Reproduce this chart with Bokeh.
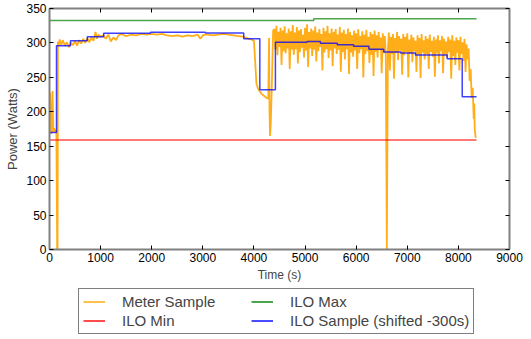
from bokeh.plotting import figure
from bokeh.layouts import column
from bokeh.models import Range1d, LinearAxis, FixedTicker, Legend, LegendItem
from bokeh.embed import file_html
from bokeh.resources import INLINE

# ---------------- data ----------------
# Meter sample (orange): early, smoother part
meter_t_early = [0, 15, 30, 45, 60, 75, 90, 105, 120, 135,
                 150, 158, 165, 180, 200, 230, 260, 300, 340, 380,
                 420, 460, 500, 540, 580, 620, 660, 700, 740, 780,
                 820, 860, 900, 930, 960, 1000, 1050, 1100, 1150, 1200,
                 1250, 1300, 1350, 1400, 1500, 1600, 1700, 1800, 1900, 2000,
                 2100, 2200, 2300, 2400, 2500, 2600, 2700, 2800, 2900, 2950,
                 3000, 3050, 3100, 3200, 3300, 3400, 3500, 3600, 3700, 3800,
                 3900, 3950, 4000, 4050, 4090, 4150, 4200, 4250, 4280, 4295,
                 4305, 4315, 4330, 4350, 4375]
meter_w_early = [175, 228, 168, 172, 230, 170, 176, 171, 174, 170,
                 0, 0, 302, 295, 305, 297, 304, 296, 301, 294,
                 300, 297, 303, 296, 304, 299, 306, 300, 307, 301,
                 308, 303, 316, 306, 312, 309, 311, 306, 312, 302,
                 308, 304, 311, 313, 310, 312, 311, 313, 312, 313,
                 312, 313, 311, 310, 311, 309, 311, 310, 312, 306,
                 311, 312, 312, 311, 312, 313, 312, 311, 310, 309,
                 306, 305, 303, 240, 232, 226, 223, 220, 219, 307,
                 200, 165, 185, 240, 318]

# Meter sample: noisy part, sampled every 20 s from 4400 s
meter_noise_start = 4400
meter_noise_step = 20
meter_w_noise = [320, 290, 325, 282, 316, 294, 322, 268, 318, 288,
                 324, 285, 314, 292, 321, 262, 317, 290, 326, 283,
                 315, 291, 323, 270, 318, 287, 320, 293, 312, 279,
                 322, 289, 327, 265, 316, 292, 321, 281, 318, 290,
                 324, 273, 315, 288, 320, 294, 313, 260, 322, 286,
                 317, 291, 325, 278, 314, 289, 321, 266, 316, 292,
                 320, 284, 312, 290, 323, 258, 315, 287, 319, 276,
                 313, 291, 321, 255, 316, 286, 311, 280, 318, 289,
                 314, 262, 320, 285, 310, 291, 317, 250, 312, 284,
                 319, 288, 309, 271, 316, 283, 313, 252, 318, 287,
                 311, 279, 316, 290, 308, 256, 314, 285, 310, 283,
                 0, 288, 315, 260, 309, 284, 313, 248, 307, 286,
                 316, 275, 310, 289, 306, 254, 313, 282, 309, 287,
                 314, 250, 305, 285, 312, 272, 308, 288, 303, 258,
                 311, 283, 307, 249, 313, 286, 304, 276, 310, 284,
                 306, 262, 312, 287, 303, 280, 309, 251, 305, 285,
                 311, 270, 304, 288, 310, 256, 306, 283, 302, 279,
                 309, 287, 305, 248, 311, 281, 303, 268, 308, 286,
                 304, 260, 309, 284, 301, 274, 306, 258, 298, 276,
                 292]

# Meter sample: tail
meter_t_tail = [8220, 8240, 8260, 8280, 8300, 8310, 8320, 8330, 8340]
meter_w_tail = [245, 262, 220, 235, 190, 212, 175, 168, 162]

# ILO sample (shifted -300 s), step values
ilo_t = [0, 137, 410, 740, 1060, 1975, 3050, 3800, 4115, 4420,
         5040, 5300, 5630, 5950, 6250, 6540, 6870, 7160, 7780, 8075, 8355]
ilo_w = [170, 296, 303, 309, 314, 315.5, 314.5, 306, 232, 301,
         302, 299.5, 297.5, 295, 291, 287, 285.5, 282.5, 277, 222, 222]

# ILO max / min
ilo_max_t = [0, 5170, 8355]
ilo_max_w = [332.5, 335, 335]
ilo_min_t = [0, 8355]
ilo_min_w = [159, 159]

x_ticks = [0, 1000, 2000, 3000, 4000, 5000, 6000, 7000, 8000, 9000]
y_ticks = [0, 50, 100, 150, 200, 250, 300, 350]

series_labels = ["Meter Sample", "ILO Min", "ILO Max", "ILO Sample (shifted -300s)"]
series_colors = ["#FFA500", "#FF0000", "#008000", "#0000FF"]
series_alpha = [0.9, 0.7, 0.7, 0.75]
series_width = [1.8, 1.5, 1.5, 1.5]

# ---------------- build series ----------------
meter_t_noise = [meter_noise_start + i * meter_noise_step for i in range(len(meter_w_noise))]
meter_t = meter_t_early + meter_t_noise + meter_t_tail
meter_w = meter_w_early + meter_w_noise + meter_w_tail

series = [(meter_t, meter_w, "line"), (ilo_min_t, ilo_min_w, "line"),
          (ilo_max_t, ilo_max_w, "step"), (ilo_t, ilo_w, "step")]

FONT = "Liberation Sans"

p = figure(width=531, height=285,
           x_range=Range1d(0, 9000), y_range=Range1d(0, 350),
           output_backend="svg", toolbar_location=None,
           min_border_left=49, min_border_right=22, min_border_top=8, min_border_bottom=36,
           background_fill_color="white", border_fill_color="white")
p.outline_line_color = None
p.xgrid.visible = False
p.ygrid.visible = False

for (xs, ys, kind), col, al, lw in zip(series, series_colors, series_alpha, series_width):
    if kind == "line":
        p.line(xs, ys, line_color=col, line_width=lw, line_alpha=al)
    else:
        p.step(xs, ys, mode="after", line_color=col, line_width=lw, line_alpha=al)

def style_axis(ax, labels=True):
    ax.axis_line_color = "#808080"
    ax.axis_line_width = 2
    ax.major_tick_line_color = "black"
    ax.major_tick_line_width = 1
    ax.major_tick_in = 4
    ax.major_tick_out = 0
    ax.minor_tick_line_color = None
    ax.major_label_text_font = FONT
    if labels:
        ax.major_label_text_color = "black"
        ax.major_label_text_font_size = "12px"
        ax.major_label_standoff = 3
    else:
        ax.major_label_text_color = None
        ax.major_label_text_font_size = "0px"
        ax.major_label_standoff = 0

p.xaxis.ticker = FixedTicker(ticks=x_ticks)
p.yaxis.ticker = FixedTicker(ticks=y_ticks)
style_axis(p.xaxis[0])
style_axis(p.yaxis[0])
p.xaxis.axis_label = "Time (s)"
p.yaxis.axis_label = "Power (Watts)"
for ax, fs in ((p.xaxis[0], "12px"), (p.yaxis[0], "13px")):
    ax.axis_label_text_font = FONT
    ax.axis_label_text_font_style = "normal"
    ax.axis_label_text_font_size = fs
    ax.axis_label_standoff = 3

top_ax = LinearAxis(ticker=FixedTicker(ticks=x_ticks))
style_axis(top_ax, labels=False)
right_ax = LinearAxis(ticker=FixedTicker(ticks=y_ticks))
style_axis(right_ax, labels=False)
p.add_layout(top_ax, "above")
p.add_layout(right_ax, "right")

# ---------------- legend (separate strip below the plot) ----------------
# The same series are drawn here outside the visible range, only to feed the legend.
lg = figure(width=531, height=53, x_range=Range1d(-20, -10), y_range=Range1d(0, 1),
            x_axis_type=None, y_axis_type=None,
            output_backend="svg", toolbar_location=None,
            min_border_left=49, min_border_right=22, min_border_top=0, min_border_bottom=0,
            background_fill_color="white", border_fill_color="white")
lg.outline_line_color = None
lg.xgrid.visible = False
lg.ygrid.visible = False
items = []
for (xs, ys, kind), lab, col, al in zip(series, series_labels, series_colors, series_alpha):
    r = lg.line(xs, ys, line_color=col, line_width=2, line_alpha=0.7)
    items.append(LegendItem(label=lab, renderers=[r]))

legend = Legend(items=items, ncols=2, orientation="vertical")
legend.location = (29, 4)
legend.label_text_font = FONT
legend.label_text_font_size = "15px"
legend.glyph_width = 22
legend.glyph_height = 15
legend.label_height = 15
legend.label_standoff = 17
legend.label_width = 127
legend.spacing = 2
legend.padding = 4
legend.margin = 0
legend.border_line_color = "black"
legend.border_line_width = 1
legend.background_fill_color = "white"
legend.background_fill_alpha = 1
lg.add_layout(legend, "center")

layout = column(p, lg, spacing=0)
open("out.html", "w").write(file_html(layout, INLINE))
